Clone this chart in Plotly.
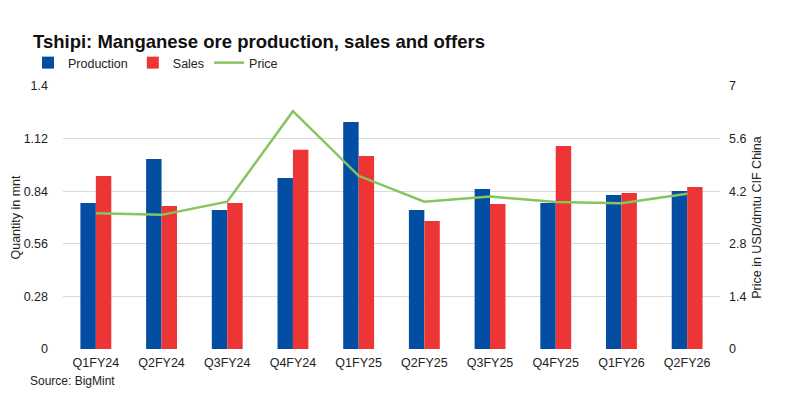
import plotly.graph_objects as go

categories = ["Q1FY24", "Q2FY24", "Q3FY24", "Q4FY24", "Q1FY25",
              "Q2FY25", "Q3FY25", "Q4FY25", "Q1FY26", "Q2FY26"]
production = [0.777, 1.012, 0.740, 0.910, 1.209, 0.740, 0.852, 0.777, 0.820, 0.841]
sales = [0.921, 0.761, 0.777, 1.060, 1.028, 0.681, 0.772, 1.081, 0.831, 0.862]
price = [3.61, 3.57, 3.92, 6.33, 4.61, 3.92, 4.06, 3.91, 3.88, 4.13]

left_ticks = [0, 0.28, 0.56, 0.84, 1.12, 1.4]
left_labels = ["0", "0.28", "0.56", "0.84", "1.12", "1.4"]
right_ticks = [0, 1.4, 2.8, 4.2, 5.6, 7]
right_labels = ["0", "1.4", "2.8", "4.2", "5.6", "7"]

font = "Liberation Sans, Arial, sans-serif"
# page body has an 8px margin, so the figure is drawn 8px in from the top-left
OFF = 8
W, H = 788 - OFF, 399 - OFF
L, R, T, B = 63 - OFF, 68, 86 - OFF, 50
pw, ph = W - L - R, H - T - B


def px_x(x):
    return (x - OFF - L) / pw


def px_y(y):
    return (H - B - (y - OFF)) / ph


fig = go.Figure()
fig.add_trace(go.Bar(x=categories, y=production, name="Production",
                     marker_color="#034EA2", marker_line_width=0))
fig.add_trace(go.Bar(x=categories, y=sales, name="Sales",
                     marker_color="#EE3535", marker_line_width=0))
fig.add_trace(go.Scatter(x=categories, y=price, name="Price", yaxis="y2",
                         mode="lines", line=dict(color="#86C45F", width=2.5)))

fig.update_layout(
    width=W, height=H,
    margin=dict(l=L, r=R, t=T, b=B, autoexpand=False),
    paper_bgcolor="white", plot_bgcolor="white",
    font=dict(family=font, size=13, color="#222222"),
    barmode="group", bargap=0.53, bargroupgap=0,
    title=dict(text="<b>Tshipi: Manganese ore production, sales and offers</b>",
               x=(33 - OFF) / W, xanchor="left", y=1 - (42 - OFF) / H, yanchor="middle",
               pad=dict(l=0, r=0, t=0, b=0),
               font=dict(size=18.5, color="#111111", family=font)),
    legend=dict(orientation="h", x=px_x(28), xanchor="left",
                y=px_y(63), yanchor="middle",
                font=dict(size=12.5), tracegroupgap=0,
                bgcolor="rgba(0,0,0,0)"),
    xaxis=dict(showgrid=False, showline=False, ticks="",
               tickfont=dict(size=12.5), ticklabelstandoff=4),
    yaxis=dict(range=[0, 1.4], tickvals=left_ticks, ticktext=left_labels,
               showgrid=True, gridcolor="#D9D9D9", gridwidth=1, zeroline=False,
               showline=False, ticks="", tickfont=dict(size=12.5),
               ticklabelstandoff=14,
               title=dict(text="Quantity in mnt", font=dict(size=12.5), standoff=0)),
    yaxis2=dict(range=[0, 7], tickvals=right_ticks, ticktext=right_labels,
                overlaying="y", side="right", showgrid=False, zeroline=False,
                showline=False, ticks="", tickfont=dict(size=12.5),
                ticklabelstandoff=8,
                title=dict(text="Price in USD/dmtu CIF China", font=dict(size=12.5), standoff=6)),
    annotations=[dict(text="Source: BigMint", x=px_x(28), y=px_y(381),
                      xref="paper", yref="paper",
                      showarrow=False, font=dict(size=12), xanchor="left", yanchor="middle")],
)

fig.write_html("out.html")
